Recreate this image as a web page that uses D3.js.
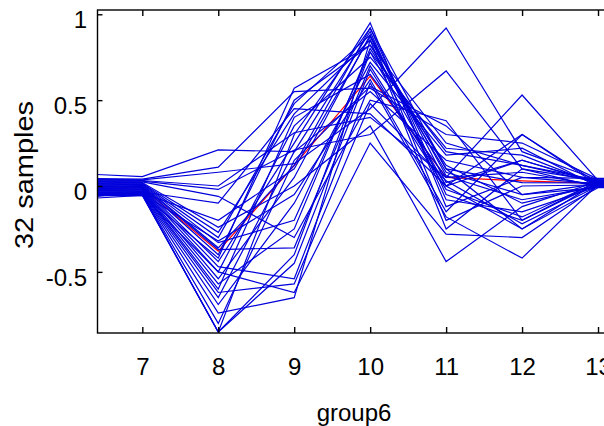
<!DOCTYPE html>
<html>
<head>
<meta charset="utf-8">
<script src="https://cdn.jsdelivr.net/npm/d3@7"></script>
<style>
  body { margin: 0; background: #fff; }
  svg { display: block; font-family: "Liberation Sans", Arial, sans-serif; }
</style>
</head>
<body>
<script>
// x positions of the samples shown in group6
var xPoints = [6, 7, 8, 9, 10, 11, 12, 13, 14];

// 32 sample profiles, one value per x point
var samples = [
  [ 0.075,  0.055,  0.21,  0.20, 0.55,  0.15,  0.05,  0.045, 0.045],
  [ 0.045,  0.040,  0.11,  0.55, 0.57,  0.30,  0.25,  0.040, 0.040],
  [ 0.040,  0.036,  0.08,  0.13, 0.45,  0.92,  0.20,  0.035, 0.035],
  [ 0.036,  0.032,  0.00,  0.31, 0.40,  0.05,  0.53,  0.032, 0.032],
  [ 0.032,  0.028, -0.02,  0.21, 0.30,  0.67,  0.10,  0.030, 0.030],
  [ 0.028,  0.024, -0.06, -0.30, 0.50,  0.38, -0.20,  0.028, 0.028],
  [ 0.024,  0.020, -0.24,  0.00, 0.35, -0.44, -0.12,  0.026, 0.026],
  [ 0.020,  0.016, -0.27,  0.42, 0.85,  0.10, -0.25,  0.024, 0.024],
  [ 0.016,  0.012, -0.30,  0.48, 0.88,  0.02,  0.15,  0.022, 0.022],
  [ 0.012,  0.008, -0.33, -0.20, 0.78,  0.20,  0.12,  0.020, 0.020],
  [ 0.008,  0.004, -0.36,  0.12, 0.92, -0.05, -0.20,  0.018, 0.018],
  [ 0.004,  0.000, -0.37, -0.36, 0.70,  0.00,  0.30,  0.016, 0.016],
  [ 0.000, -0.004, -0.40,  0.50, 0.82,  0.08, -0.05,  0.014, 0.014],
  [-0.004, -0.008, -0.44,  0.25, 0.95, -0.12,  0.05,  0.012, 0.012],
  [-0.008, -0.012, -0.47, -0.54, 0.60, -0.18, -0.42,  0.010, 0.010],
  [-0.012, -0.016, -0.50,  0.35, 0.75,  0.22,  0.18,  0.008, 0.008],
  [-0.016, -0.020, -0.54,  0.05, 0.88, -0.20,  0.00,  0.006, 0.006],
  [-0.020, -0.024, -0.57, -0.25, 0.80,  0.12, -0.10,  0.004, 0.004],
  [-0.024, -0.028, -0.60,  0.40, 0.65,  0.05,  0.08,  0.002, 0.002],
  [-0.028, -0.032, -0.62, -0.57, 0.48,  0.03, -0.22,  0.000, 0.000],
  [-0.032, -0.036, -0.65,  0.20, 0.90, -0.08, -0.15, -0.002, -0.002],
  [-0.036, -0.040, -0.69, -0.10, 0.72,  0.18,  0.22, -0.004, -0.004],
  [-0.040, -0.043, -0.74, -0.65, 0.85, -0.25,  0.10, -0.006, -0.006],
  [-0.044, -0.046, -0.80,  0.15, 0.58,  0.35, -0.05, -0.008, -0.008],
  [-0.048, -0.049, -0.85, -0.40, 0.78,  0.00, -0.25, -0.010, -0.010],
  [-0.052, -0.052, -0.85,  0.30, 0.92,  0.10,  0.02,  0.018, 0.018],
  [-0.056, -0.055, -0.85, -0.45, 0.68, -0.02, -0.18,  0.026, 0.026],
  [-0.060, -0.050, -0.42,  0.57, 0.82,  0.25,  0.12,  0.034, 0.034],
  [-0.064, -0.045, -0.32, -0.05, 0.62, -0.15,  0.30,  0.005, 0.005],
  [-0.068, -0.040, -0.20,  0.10, 0.87,  0.06, -0.08, -0.004, -0.004],
  [-0.075, -0.035, -0.10,  0.45, 0.42,  0.00,  0.15,  0.015, 0.015],
  [-0.080, -0.055, -0.50, -0.62, 0.25, -0.28, -0.30,  0.000, 0.000]
];

// group mean, drawn in red
var meanValues = [0.0, -0.01, -0.38, 0.12, 0.64, 0.05, 0.03, 0.015, 0.015];

var xTicks = [7, 8, 9, 10, 11, 12, 13];
var yTicks = [-0.5, 0, 0.5, 1];
var xLabel = "group6";
var yLabel = "32 samples";

var width = 604,
    height = 426,
    plotLeft = 97.5,
    plotTop = 10,
    plotBottom = 333;

var x = d3.scaleLinear().domain([6.41, 13.4]).range([plotLeft, 628.4]);
var y = d3.scaleLinear().domain([-0.856, 1.025]).range([plotBottom, plotTop]);

var svg = d3.select("body").append("svg")
    .attr("width", width)
    .attr("height", height);

svg.append("defs").append("clipPath")
    .attr("id", "plot")
  .append("rect")
    .attr("x", x.range()[0])
    .attr("y", plotTop)
    .attr("width", x.range()[1] - x.range()[0])
    .attr("height", plotBottom - plotTop);

var line = d3.line()
    .x(function(d, i) { return x(xPoints[i]); })
    .y(function(d) { return y(d); });

var plot = svg.append("g").attr("clip-path", "url(#plot)");

plot.append("path")
    .datum(meanValues)
    .attr("d", line)
    .attr("fill", "none")
    .attr("stroke", "#ff0000")
    .attr("stroke-width", 1.2);

plot.selectAll(".sample")
    .data(samples)
  .enter().append("path")
    .attr("class", "sample")
    .attr("d", line)
    .attr("fill", "none")
    .attr("stroke", "#0000dc")
    .attr("stroke-width", 1.2);

// box
svg.append("rect")
    .attr("x", x.range()[0])
    .attr("y", plotTop)
    .attr("width", x.range()[1] - x.range()[0])
    .attr("height", plotBottom - plotTop)
    .attr("fill", "none")
    .attr("stroke", "#000")
    .attr("stroke-width", 1.4);

var fmtY = function(d) { return d3.format("~g")(d).replace("\u2212", "-"); };

// inward ticks, bottom and top
var xAxisB = d3.axisBottom(x).tickValues(xTicks).tickSize(-6).tickPadding(25).tickFormat(d3.format("d"));
var xAxisT = d3.axisTop(x).tickValues(xTicks).tickSize(-6).tickFormat("");
var yAxisL = d3.axisLeft(y).tickValues(yTicks).tickSize(-5).tickPadding(10.5).tickFormat(fmtY);

function style(g) {
  g.select(".domain").remove();
  g.selectAll(".tick line").attr("stroke", "#000").attr("stroke-width", 1.4);
  g.selectAll("text").attr("fill", "#000").attr("font-size", 24)
    .attr("font-family", "'Liberation Sans', Arial, sans-serif");
}

svg.append("g").attr("transform", "translate(0," + plotBottom + ")").call(xAxisB).call(style);
svg.append("g").attr("transform", "translate(0," + plotTop + ")").call(xAxisT).call(style);
svg.append("g").attr("transform", "translate(" + plotLeft + ",0)").call(yAxisL).call(style)
  .selectAll("text").attr("dy", "0.55em");

svg.append("text")
    .attr("x", 354)
    .attr("y", 421)
    .attr("text-anchor", "middle")
    .attr("font-size", 24)
    .text(xLabel);

svg.append("text")
    .attr("transform", "translate(33,175) rotate(-90)")
    .attr("text-anchor", "middle")
    .attr("font-size", 25)
    .attr("textLength", 148)
    .attr("lengthAdjust", "spacingAndGlyphs")
    .text(yLabel);
</script>
</body>
</html>
